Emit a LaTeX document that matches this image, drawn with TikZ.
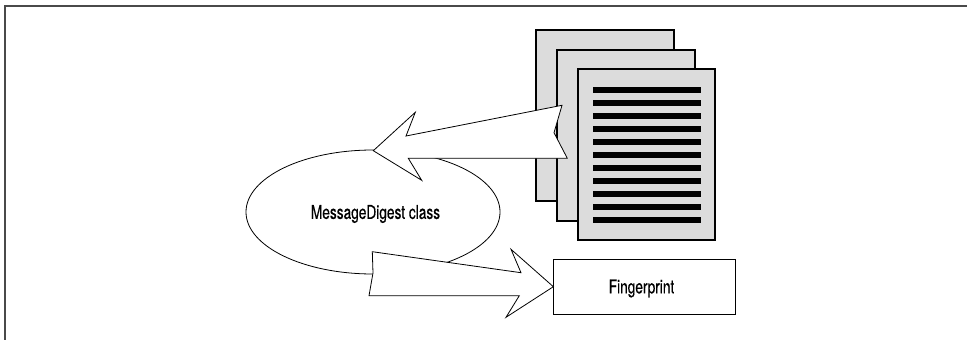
\documentclass[tikz,border=0pt]{standalone}
\usepackage{fontspec}
\usetikzlibrary{shapes.geometric}
\setmainfont[FakeStretch=0.72,FakeBold=0.35]{TeX Gyre Heros}
\definecolor{pagegray}{HTML}{DCDCDC}
\definecolor{framegray}{HTML}{4A4A4A}
\tikzset{
  framerule/.style={draw=framegray,line width=2pt},
  paper/.style={draw=black,fill=pagegray,line width=1.6pt},
  textline/.style={fill=black},
  bigarrow/.style={draw=black,fill=white,line width=0.8pt,line join=miter},
  lbl/.style={font=\fontsize{19}{22}\selectfont,text=black,inner sep=0pt}
}
\begin{document}
\begin{tikzpicture}[x=1pt,y=-1pt]
\useasboundingbox (0,0) rectangle (967,340);
\fill[white] (0,0) rectangle (967,340);
\draw[framerule] (5.2,340) -- (5.2,5.6) -- (967,5.6);
\node[ellipse,draw=black,line width=0.8pt,minimum width=254pt,minimum height=124pt,inner sep=0pt] (digest) at (373,212) {};
\node[lbl] (digesttext) at (375.5,214) {MessageDigest class};
\draw[paper] (536,30) rectangle (674,201);
\draw[paper] (557,50) rectangle (695,221);
\draw[paper] (578,69) rectangle (715,240);
\foreach \k in {0,...,10}{
  \fill[textline] (593,{87+13*\k}) rectangle (701,{93+13*\k});
}
\node[draw=black,line width=0.8pt,minimum width=181.5pt,minimum height=55pt,inner sep=0pt] (fp) at (644.5,286.7) {};
\node[lbl] (fptext) at (641.5,288.5) {Fingerprint};
\draw[bigarrow] (373.3,150.7) -- (415.3,112.3) -- (406,136) -- (562,105.3) -- (554,132.7) -- (567.3,158.3) -- (408.3,158.3) -- (421.7,180.3) -- cycle;
\draw[bigarrow] (372.3,251.7) -- (521,272.7) -- (511,249.3) -- (fp.west) -- (506,317.3) -- (519.3,295.7) -- (369,295.7) -- (373,273) -- cycle;
\end{tikzpicture}
\end{document}
